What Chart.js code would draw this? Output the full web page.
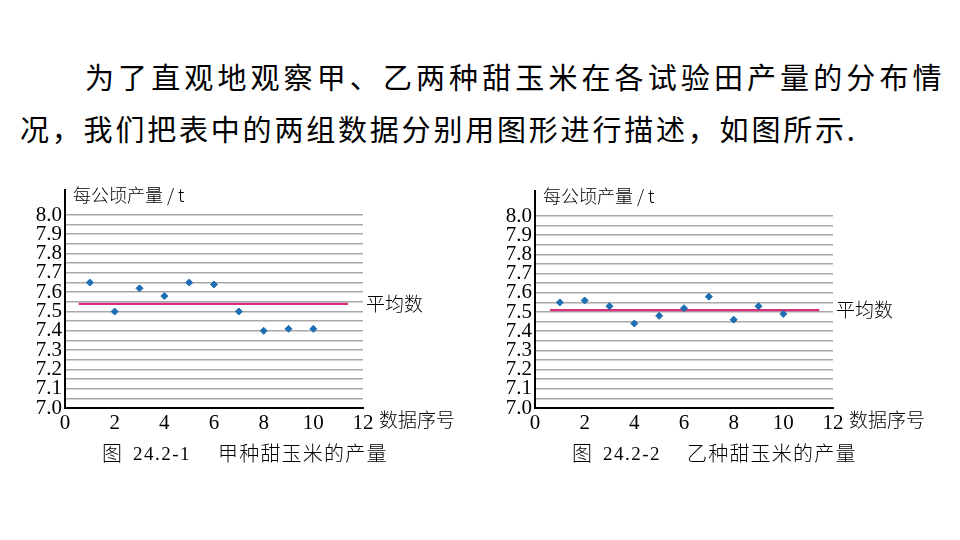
<!DOCTYPE html>
<html>
<head>
<meta charset="utf-8">
<script src="https://cdn.jsdelivr.net/npm/chart.js@4"></script>
<style>
  body { margin: 0; background: #fff; }
  #page { position: relative; width: 960px; height: 540px; overflow: hidden; font-family: "Noto Sans CJK SC", sans-serif; color: #000; }
  .line { position: absolute; font-size: 29px; white-space: nowrap; line-height: 1; }
  .cap { position: absolute; font-size: 20px; white-space: nowrap; line-height: 1; font-weight: 300; letter-spacing: 1.2px; }
  .num { position: absolute; font-family: "Liberation Serif", serif; font-size: 19px; letter-spacing: 1.5px; line-height: 1; }
  canvas { position: absolute; }
</style>
</head>
<body>
<div id="page">
  <div class="line" style="left:85px; top:62px; letter-spacing:4.1px;">为了直观地观察甲、乙两种甜玉米在各试验田产量的分布情</div>
  <div class="line" style="left:20px; top:114px; letter-spacing:2.8px;">况，我们把表中的两组数据分别用图形进行描述，如图所示.</div>
  <canvas id="chartA" style="left:0px; top:180px;" width="480" height="270"></canvas>
  <canvas id="chartB" style="left:470px; top:180px;" width="480" height="270"></canvas>
  <div class="cap" style="left:102px; top:443px;">图</div>
  <div class="num" style="left:133px; top:444px;">24.2-1</div>
  <div class="cap" style="left:218px; top:443px;">甲种甜玉米的产量</div>
  <div class="cap" style="left:572px; top:443px;">图</div>
  <div class="num" style="left:603px; top:444px;">24.2-2</div>
  <div class="cap" style="left:687px; top:443px;">乙种甜玉米的产量</div>
</div>
<script>
// data
const sampleNo = [1, 2, 3, 4, 5, 6, 7, 8, 9, 10];
const yieldA = [7.65, 7.50, 7.62, 7.58, 7.65, 7.64, 7.50, 7.40, 7.41, 7.41];
const yieldB = [7.55, 7.56, 7.53, 7.44, 7.48, 7.52, 7.58, 7.46, 7.53, 7.49];
const meanA = 7.54;
const meanB = 7.51;
const meanSpanA = [0.55, 11.4];
const meanSpanB = [0.6, 11.45];
const xTicks = [0, 2, 4, 6, 8, 10, 12];
const yGrid = [7.0, 7.05, 7.1, 7.15, 7.2, 7.25, 7.3, 7.35, 7.4, 7.45, 7.5,
               7.55, 7.6, 7.65, 7.7, 7.75, 7.8, 7.85, 7.9, 7.95, 8.0];
const yLabel = '每公顷产量 / t';
const xLabel = '数据序号';
const meanLabel = '平均数';

const cjk = '"Noto Sans CJK SC", sans-serif';

function makeChart(id, values, mean, span, topPad) {
    const labelsPlugin = {
        id: 'labels_' + id,
        afterDraw(chart) {
            const c = chart.ctx;
            const a = chart.chartArea;
            const ys = chart.scales.y;
            c.save();
            // axis goes a bit above 8.0
            c.strokeStyle = '#000';
            c.lineWidth = 2;
            c.beginPath();
            c.moveTo(a.left, a.top);
            c.lineTo(a.left, a.top - 26);
            c.stroke();
            c.fillStyle = '#000';
            c.textBaseline = 'middle';
            c.font = '300 18px ' + cjk;
            c.fillText(yLabel, a.left + 8, a.top - 20);
            c.font = '300 19px ' + cjk;
            c.fillText(meanLabel, a.right + 3, ys.getPixelForValue(mean));
            c.fillText(xLabel, a.right + 16, a.bottom + 12);
            c.restore();
        }
    };

    new Chart(document.getElementById(id), {
        type: 'scatter',
        data: {
            datasets: [{
                data: values.map((v, i) => ({ x: sampleNo[i], y: v })),
                pointStyle: 'rectRot',
                pointRadius: 3.5,
                backgroundColor: '#1f6db3',
                borderColor: '#1f6db3',
                borderWidth: 1
            }, {
                data: span.map(x => ({ x: x, y: mean })),
                showLine: true,
                borderColor: '#d6307e',
                borderWidth: 2.2,
                pointRadius: 0
            }]
        },
        options: {
            responsive: false,
            animation: false,
            events: [],
            layout: { padding: { left: 0, top: topPad, right: 117, bottom: 12 } },
            plugins: { legend: { display: false }, tooltip: { enabled: false } },
            scales: {
                x: {
                    type: 'linear',
                    min: 0, max: 12,
                    afterBuildTicks: s => { s.ticks = xTicks.map(v => ({ value: v })); },
                    afterFit: s => { s.height = 30; },
                    grid: { display: false },
                    border: { color: '#000', width: 2 },
                    ticks: {
                        color: '#000',
                        padding: -5,
                        font: { family: '"Liberation Serif", serif', size: 21 }
                    }
                },
                y: {
                    min: 7.0, max: 8.0,
                    afterBuildTicks: s => { s.ticks = yGrid.map(v => ({ value: v })); },
                    afterFit: s => { s.width = 65; },
                    grid: { color: '#a8a8a8', lineWidth: 1.6, drawTicks: false },
                    border: { color: '#000', width: 2 },
                    ticks: {
                        autoSkip: false,
                        color: '#000',
                        padding: 3,
                        font: { family: '"Liberation Serif", serif', size: 21 },
                        callback: v => (Math.round(v * 100) % 10 === 0 ? v.toFixed(1) : '')
                    }
                }
            }
        },
        plugins: [labelsPlugin]
    });
}

makeChart('chartA', yieldA, meanA, meanSpanA, 35);
makeChart('chartB', yieldB, meanB, meanSpanB, 36);
</script>
</body>
</html>
